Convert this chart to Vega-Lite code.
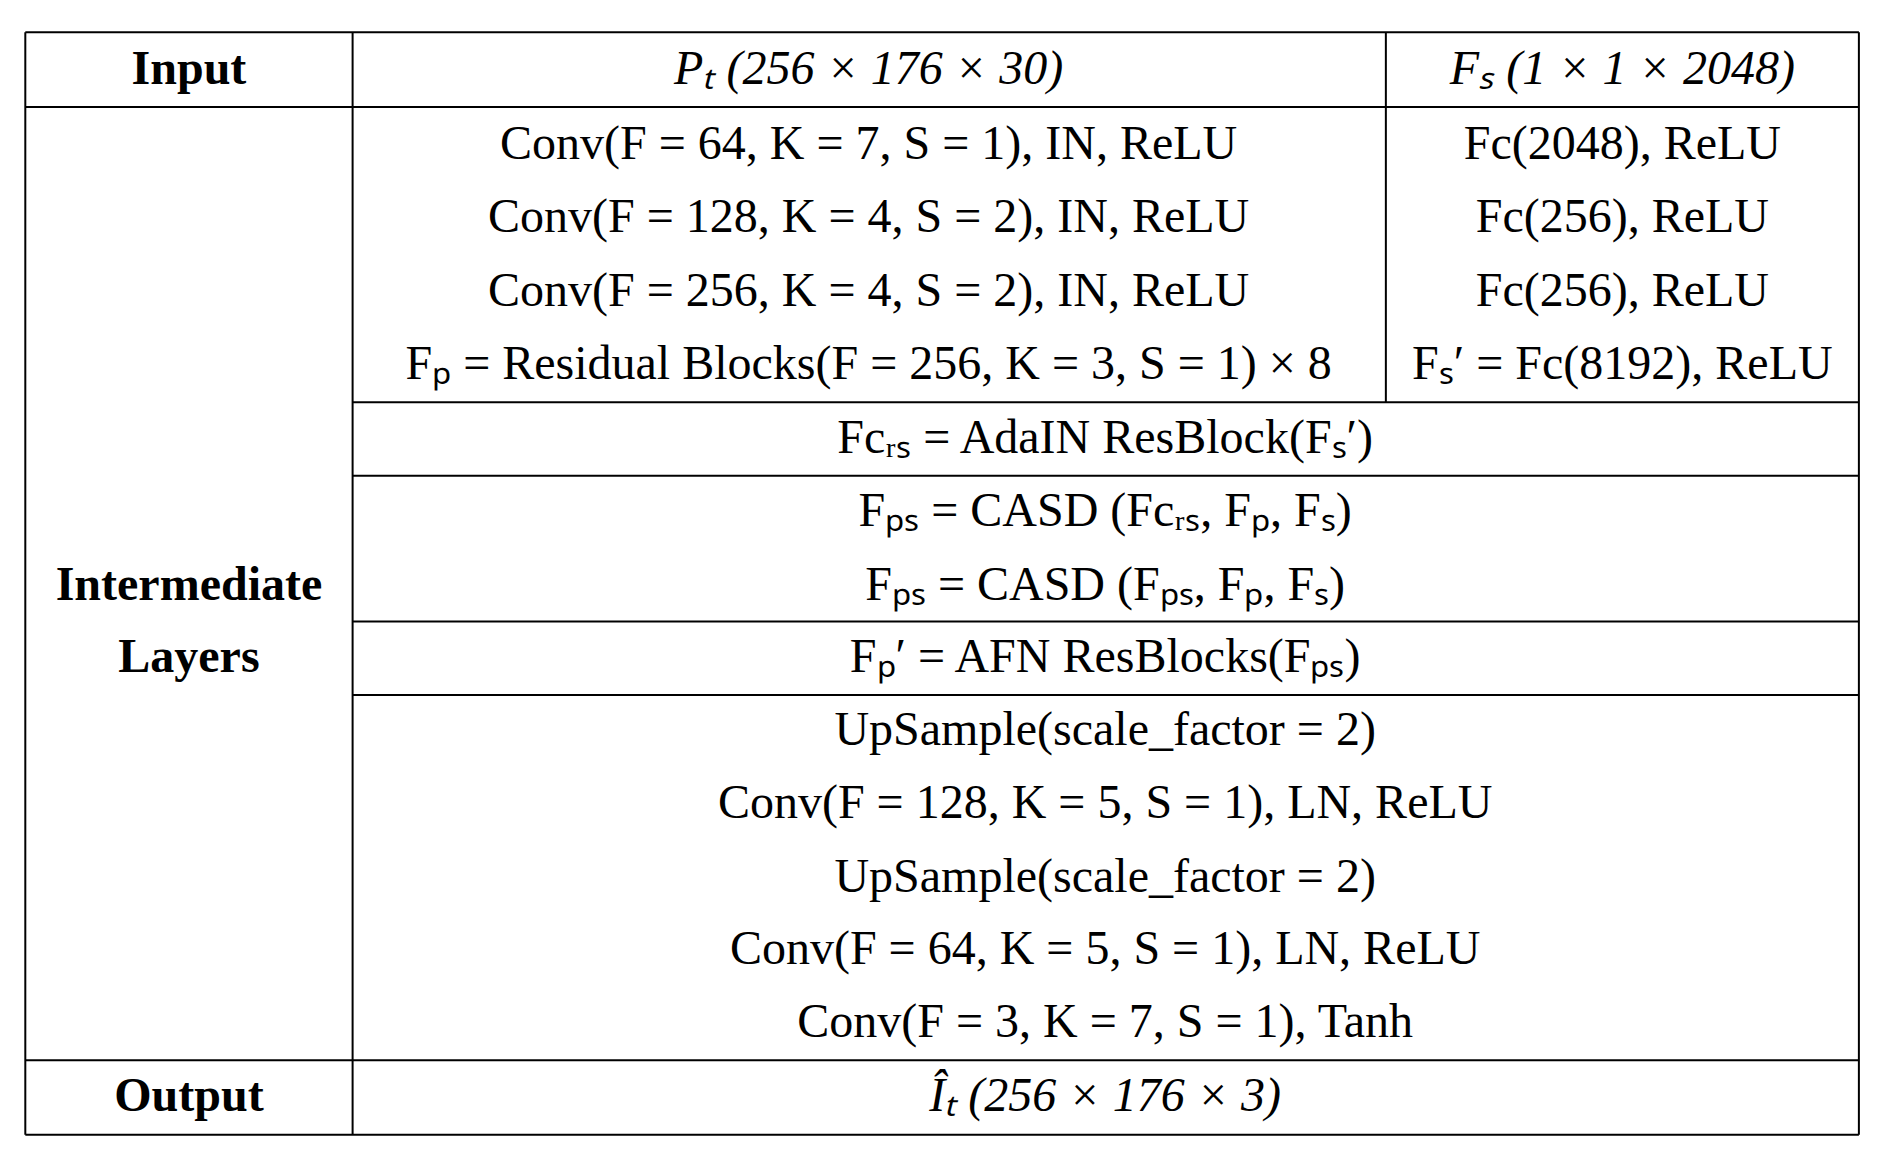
{
"$schema":"https://vega.github.io/schema/vega-lite/v6.json",
"width":1883,"height":1160,
"autosize":{"type":"fit","contains":"padding"},
"background":"white",
"config":{"view":{"stroke":null}},
"datasets":{"cells":[
{"x":154,"y":55,"t":"Input","k":"b"},
{"x":154,"y":490,"t":"Intermediate","k":"b"},
{"x":154,"y":551,"t":"Layers","k":"b"},
{"x":154,"y":921,"t":"Output","k":"b"},
{"x":723,"y":55,"t":"Pₜ  (256 × 176 × 30)","k":"i"},
{"x":1354,"y":55,"t":"Fₛ  (1 × 1 × 2048)","k":"i"},
{"x":723,"y":118,"t":"Conv(F = 64, K = 7, S = 1), IN, ReLU","k":"n"},
{"x":723,"y":180,"t":"Conv(F = 128, K = 4, S = 2), IN, ReLU","k":"n"},
{"x":723,"y":242,"t":"Conv(F = 256, K = 4, S = 2), IN, ReLU","k":"n"},
{"x":723,"y":304,"t":"Fₚ = Residual Blocks(F = 256, K = 3, S = 1) × 8","k":"n"},
{"x":1354,"y":118,"t":"Fc(2048), ReLU","k":"n"},
{"x":1354,"y":180,"t":"Fc(256), ReLU","k":"n"},
{"x":1354,"y":242,"t":"Fc(256), ReLU","k":"n"},
{"x":1354,"y":304,"t":"Fₛ′ = Fc(8192), ReLU","k":"n"},
{"x":921,"y":366,"t":"Fcᵣₛ = AdaIN ResBlock(Fₛ′)","k":"n"},
{"x":921,"y":428,"t":"Fₚₛ = CASD (Fcᵣₛ, Fₚ, Fₛ)","k":"n"},
{"x":921,"y":490,"t":"Fₚₛ = CASD (Fₚₛ, Fₚ, Fₛ)","k":"n"},
{"x":921,"y":551,"t":"Fₚ′ = AFN ResBlocks(Fₚₛ)","k":"n"},
{"x":921,"y":612,"t":"UpSample(scale_factor = 2)","k":"n"},
{"x":921,"y":674,"t":"Conv(F = 128, K = 5, S = 1), LN, ReLU","k":"n"},
{"x":921,"y":736,"t":"UpSample(scale_factor = 2)","k":"n"},
{"x":921,"y":797,"t":"Conv(F = 64, K = 5, S = 1), LN, ReLU","k":"n"},
{"x":921,"y":859,"t":"Conv(F = 3, K = 7, S = 1), Tanh","k":"n"},
{"x":921,"y":921,"t":"Îₜ  (256 × 176 × 3)","k":"i"}
]},
"encoding":{
"x":{"field":"x","type":"quantitative","scale":{"domain":[0,1568],"nice":false,"zero":false},"axis":null},
"y":{"field":"y","type":"quantitative","scale":{"domain":[970,0],"nice":false,"zero":false},"axis":null}
},
"layer":[
{"data":{"values":[
{"x":17,"x2":1552,"y":23,"y2":23},
{"x":17,"x2":1552,"y":86,"y2":86},
{"x":291,"x2":1552,"y":335,"y2":335},
{"x":291,"x2":1552,"y":397,"y2":397},
{"x":291,"x2":1552,"y":520,"y2":520},
{"x":291,"x2":1552,"y":582,"y2":582},
{"x":17,"x2":1552,"y":890,"y2":890},
{"x":17,"x2":1552,"y":953,"y2":953},
{"x":17,"x2":17,"y":23,"y2":953},
{"x":291,"x2":291,"y":23,"y2":953},
{"x":1552,"x2":1552,"y":23,"y2":953},
{"x":1156,"x2":1156,"y":23,"y2":335}
]},
"mark":{"type":"rule","stroke":"black","strokeWidth":2},
"encoding":{"x2":{"field":"x2"},"y2":{"field":"y2"}}},
{"data":{"name":"cells"},"transform":[{"filter":"datum.k == 'b'"}],
"mark":{"type":"text","font":"Liberation Serif","fontSize":48,"fontWeight":"bold","align":"center","baseline":"middle","color":"black"},
"encoding":{"text":{"field":"t"}}},
{"data":{"name":"cells"},"transform":[{"filter":"datum.k == 'i'"}],
"mark":{"type":"text","font":"Liberation Serif","fontSize":48,"fontStyle":"italic","align":"center","baseline":"middle","color":"black"},
"encoding":{"text":{"field":"t"}}},
{"data":{"name":"cells"},"transform":[{"filter":"datum.k == 'n'"}],
"mark":{"type":"text","font":"Liberation Serif","fontSize":48,"align":"center","baseline":"middle","color":"black"},
"encoding":{"text":{"field":"t"}}}
]
}
